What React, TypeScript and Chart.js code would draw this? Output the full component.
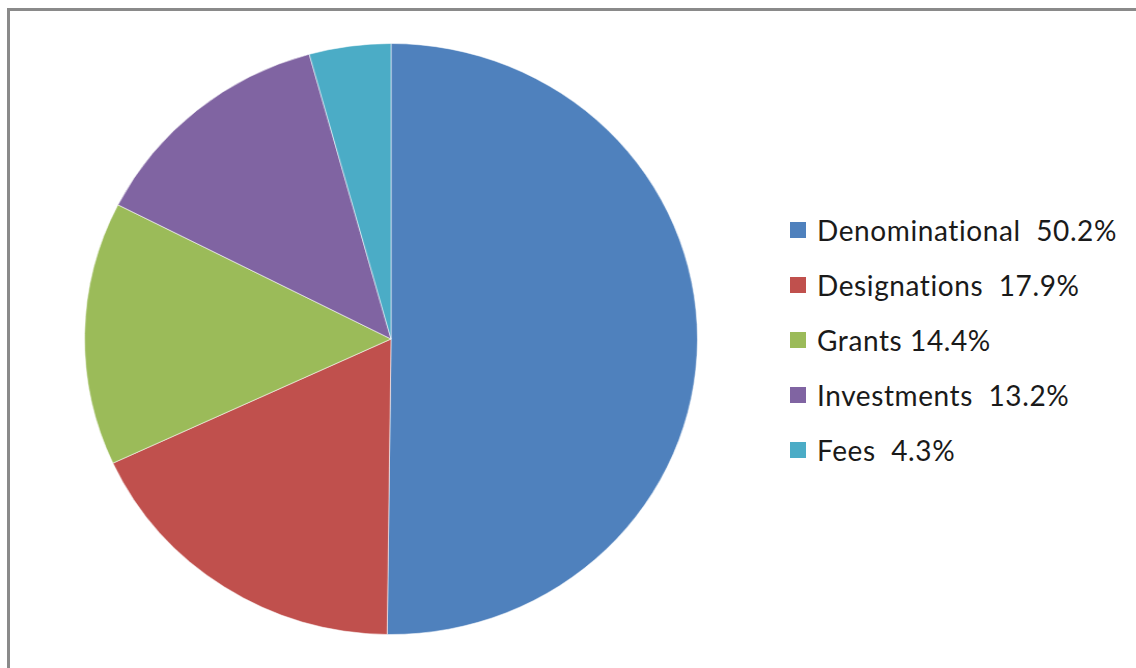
import React, { useEffect, useRef } from "react";
import { Chart, registerables } from "chart.js";

Chart.register(...registerables);

const categories = ["Denominational", "Designations", "Grants", "Investments", "Fees"];
const values = [50.2, 17.9, 14.4, 13.2, 4.3];
const legendTexts = [
  "Denominational  50.2%",
  "Designations  17.9%",
  "Grants 14.4%",
  "Investments  13.2%",
  "Fees  4.3%",
];
const colors = ["#4F81BD", "#C0504D", "#9BBB59", "#8064A2", "#4BACC6"];

export default function App() {
  const ref = useRef<HTMLCanvasElement | null>(null);

  useEffect(() => {
    if (!ref.current) return;
    const chart = new Chart(ref.current, {
      type: "pie",
      data: {
        labels: categories,
        datasets: [
          {
            data: values,
            backgroundColor: colors,
            borderColor: "rgba(255,255,255,0.55)",
            borderWidth: 1,
          },
        ],
      },
      options: {
        responsive: false,
        animation: false,
        layout: { padding: 0 },
        plugins: {
          legend: { display: false },
          tooltip: { enabled: false },
        },
      },
    });
    return () => chart.destroy();
  }, []);

  return (
    <div
      style={{
        position: "fixed",
        left: 0,
        top: 0,
        width: 1136,
        height: 668,
        overflow: "hidden",
        background: "#fff",
      }}
    >
      <div
        style={{
          position: "absolute",
          left: 7,
          top: 8,
          width: 1200,
          height: 700,
          borderLeft: "3px solid #8a8a8a",
          borderTop: "3px solid #8a8a8a",
          boxSizing: "border-box",
        }}
      />
      <div
        style={{
          position: "absolute",
          left: 95,
          top: 43,
          width: 592,
          height: 592,
          transform: "scaleX(1.037)",
          transformOrigin: "50% 50%",
        }}
      >
        <canvas ref={ref} width={592} height={592} style={{ width: 592, height: 592 }} />
      </div>
      {legendTexts.map((t, i) => (
        <div
          key={t}
          style={{
            position: "absolute",
            left: 790,
            top: 210 + i * 55,
            height: 40,
            display: "flex",
            alignItems: "center",
            fontFamily: "Lato, 'Open Sans', sans-serif",
            fontSize: 28,
            lineHeight: "40px",
            letterSpacing: 0.6,
            color: "#1a1a1a",
            whiteSpace: "pre",
          }}
        >
          <span
            style={{
              display: "inline-block",
              width: 16,
              height: 16,
              background: colors[i],
              marginRight: 11,
            }}
          />
          <span>{t}</span>
        </div>
      ))}
    </div>
  );
}
